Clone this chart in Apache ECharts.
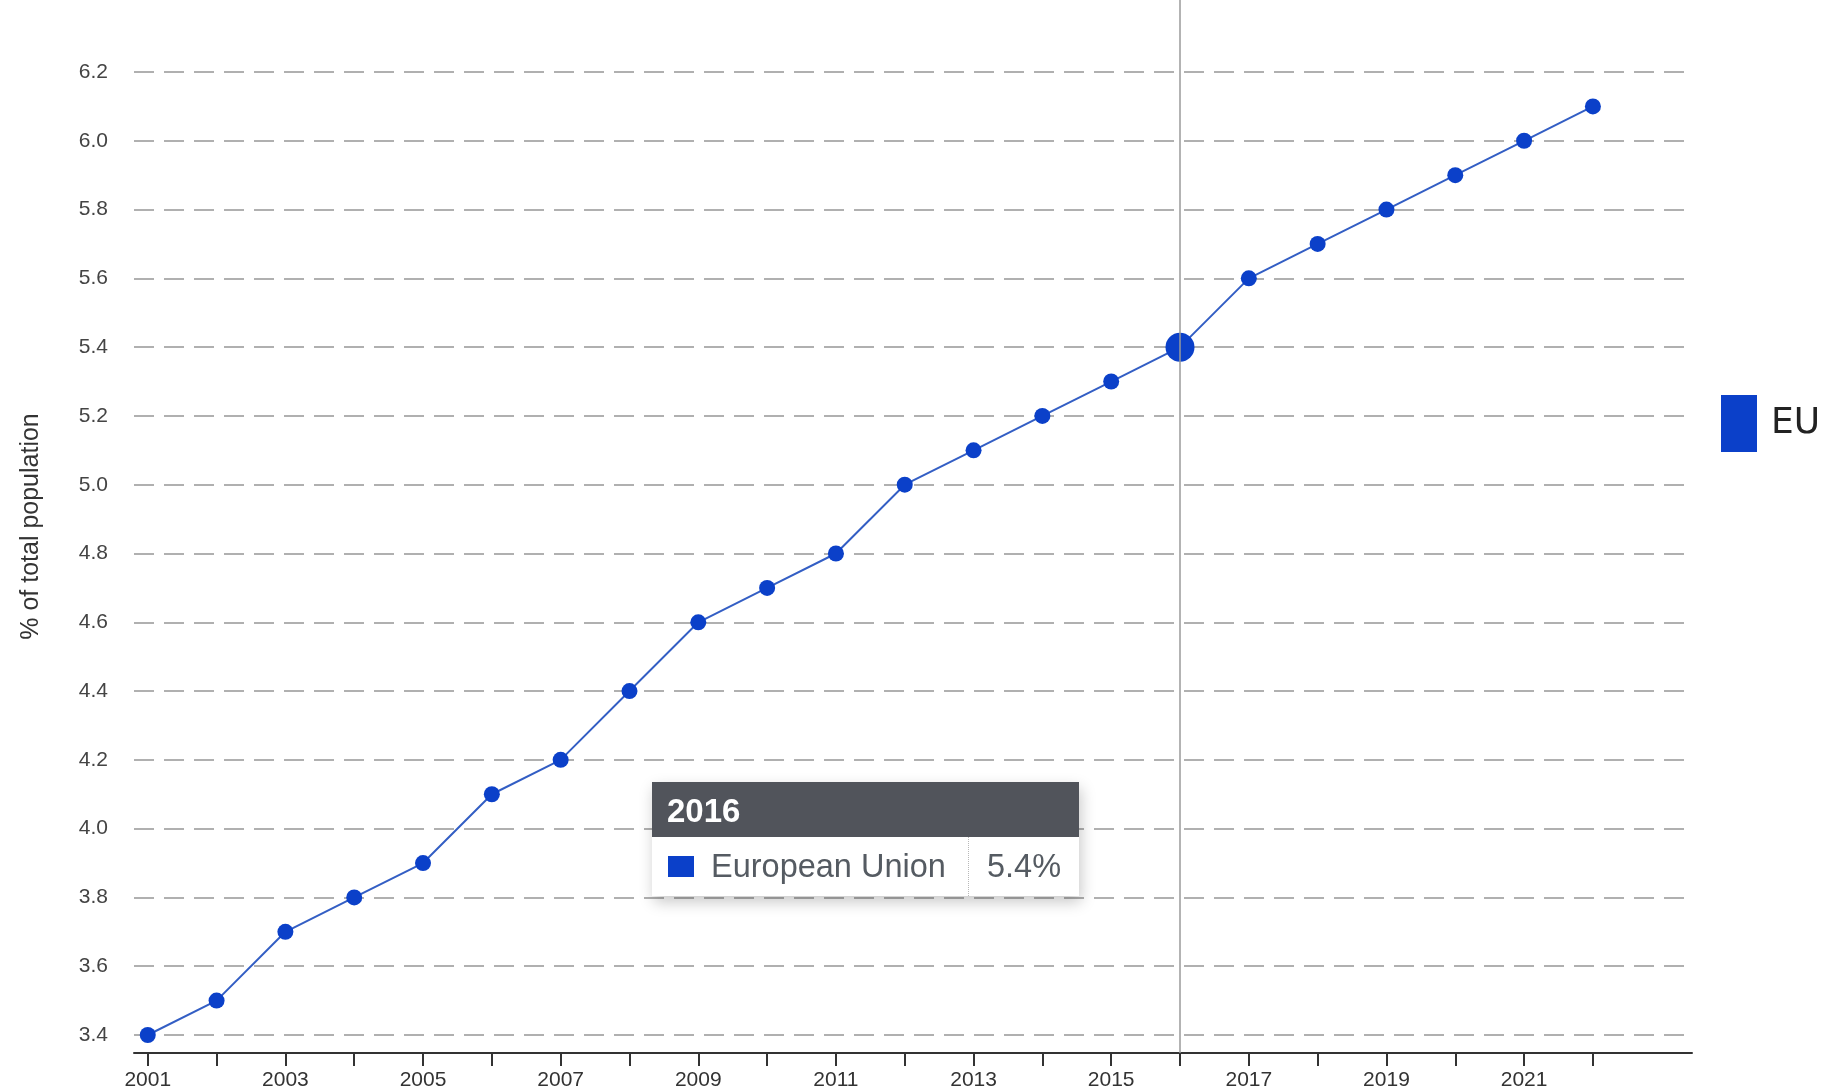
<!DOCTYPE html>
<html>
<head>
<meta charset="utf-8">
<script src="https://cdn.jsdelivr.net/npm/echarts@6/dist/echarts.min.js"></script>
<style>
  html, body { margin: 0; padding: 0; background: #fff; }
  #chart { width: 1829px; height: 1092px; }
</style>
</head>
<body>
<div id="chart"></div>
<script>
// ---- data ----
const years = [2001, 2002, 2003, 2004, 2005, 2006, 2007, 2008, 2009, 2010, 2011,
               2012, 2013, 2014, 2015, 2016, 2017, 2018, 2019, 2020, 2021, 2022];
const euValues = [3.4, 3.5, 3.7, 3.8, 3.9, 4.1, 4.2, 4.4, 4.6, 4.7, 4.8,
                  5.0, 5.1, 5.2, 5.3, 5.4, 5.6, 5.7, 5.8, 5.9, 6.0, 6.1];
const xTickYears = years;
const xLabelYears = [2001, 2003, 2005, 2007, 2009, 2011, 2013, 2015, 2017, 2019, 2021];
const yTickValues = [3.4, 3.6, 3.8, 4.0, 4.2, 4.4, 4.6, 4.8, 5.0, 5.2, 5.4, 5.6, 5.8, 6.0, 6.2];
const seriesName = 'European Union';
const legendLabel = 'EU';
const highlightYear = 2016;

const chart = echarts.init(document.getElementById('chart'), null, { renderer: 'canvas' });
const points = years.map((y, i) => [y, euValues[i]]);
const hiIndex = years.indexOf(highlightYear);

const option = {
  animation: false,
  backgroundColor: '#ffffff',
  textStyle: { fontFamily: 'Liberation Sans, Arial, sans-serif' },
  grid: { left: 134, right: 137, top: 0, bottom: 39, containLabel: false },
  legend: {
    show: true,
    orient: 'vertical',
    left: 1716,
    top: 390,
    icon: 'rect',
    itemWidth: 36,
    itemHeight: 57,
    formatter: () => legendLabel,
    textStyle: { fontSize: 36, color: '#222', fontFamily: 'DejaVu Sans, sans-serif', padding: [0, 0, 0, 9] },
    selectedMode: false
  },
  tooltip: {
    trigger: 'axis',
    alwaysShowContent: true,
    showDelay: 0,
    transitionDuration: 0,
    position: [652, 782],
    padding: 0,
    borderWidth: 0,
    backgroundColor: '#ffffff',
    extraCssText: 'box-shadow: 2px 6px 14px rgba(0,0,0,0.22); border-radius: 0;',
    axisPointer: { type: 'line', lineStyle: { color: '#9a9a9a', width: 1.5, type: 'solid' } },
    formatter: function (params) {
      const p = params[0];
      const yr = Math.round(p.value[0]);
      const val = p.value[1].toFixed(1) + '%';
      return '<div style="width:427px;font-family:Liberation Sans, Arial, sans-serif;">' +
        '<div style="background:#51545b;color:#fff;font-weight:bold;font-size:33px;height:55px;line-height:57px;padding-left:15px;">' + yr + '</div>' +
        '<div style="display:flex;height:59px;font-size:32.5px;color:#555b62;">' +
          '<div style="width:300px;padding-left:16px;display:flex;align-items:center;border-right:1px dotted #b8b8b8;">' +
            '<span style="display:inline-block;width:26px;height:21px;background:#0b40c9;margin-right:17px;"></span>' + p.seriesName +
          '</div>' +
          '<div style="display:flex;align-items:center;padding-left:18px;">' + val + '</div>' +
        '</div></div>';
    }
  },
  xAxis: {
    type: 'value',
    min: 2000.8,
    max: 2023.44,
    axisLine: { show: true, onZero: false, lineStyle: { color: '#333', width: 2 } },
    axisTick: { show: true, length: 13, inside: false, customValues: xTickYears, lineStyle: { color: '#333', width: 2 } },
    axisLabel: {
      show: true, customValues: xLabelYears, fontSize: 21, color: '#333', margin: 17,
      formatter: v => String(Math.round(v))
    },
    splitLine: { show: false }
  },
  yAxis: {
    type: 'value',
    min: 3.3477,
    max: 6.4093,
    name: '% of total population',
    nameLocation: 'middle',
    nameRotate: 90,
    nameGap: 90,
    nameTextStyle: { fontSize: 25, color: '#333' },
    axisLine: { show: false },
    axisTick: { show: false, customValues: yTickValues },
    axisLabel: {
      show: true, customValues: yTickValues, fontSize: 21, color: '#444', margin: 26,
      formatter: v => v.toFixed(1)
    },
    splitLine: { show: true, lineStyle: { color: '#b0b0b0', width: 2, type: [20, 10] } }
  },
  series: [{
    name: seriesName,
    type: 'line',
    data: points,
    symbol: 'circle',
    symbolSize: (val, params) => params.dataIndex === hiIndex ? 29 : 16,
    lineStyle: { color: '#2f56b3', width: 2 },
    itemStyle: { color: '#0b40c9' },
    emphasis: { scale: false, itemStyle: { color: '#0b40c9' }, lineStyle: { width: 2 } },
    z: 3
  }]
};
chart.setOption(option);
chart.dispatchAction({ type: 'showTip', seriesIndex: 0, dataIndex: hiIndex });
</script>
</body>
</html>
